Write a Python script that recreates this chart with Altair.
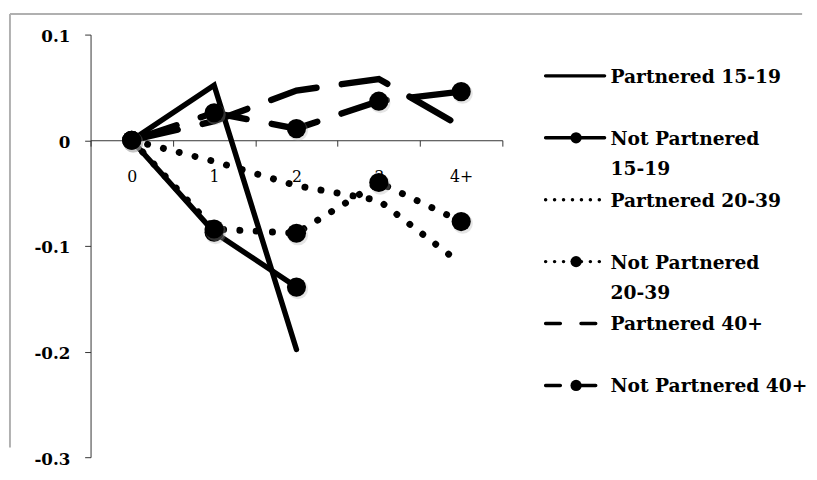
import altair as alt
import pandas as pd

categories = ["0", "1", "2", "3", "4+"]
series_names = ["Partnered 15-19", "Not Partnered 15-19", "Partnered 20-39",
                "Not Partnered 20-39", "Partnered 40+", "Not Partnered 40+"]
legend_labels = ["Partnered 15-19", "Not Partnered\n15-19", "Partnered 20-39",
                 "Not Partnered\n20-39", "Partnered 40+", "Not Partnered 40+"]
partnered_15_19 = [0.0, 0.052, -0.198]
not_partnered_15_19 = [0.0, -0.087, -0.139]
partnered_20_39 = [0.0, -0.020, -0.043, -0.057, -0.117]
not_partnered_20_39 = [0.0, -0.084, -0.088, -0.040, -0.077]
partnered_40 = [0.0, 0.018, 0.047, 0.058, 0.013]
not_partnered_40 = [0.0, 0.026, 0.011, 0.037, 0.046]
y_ticks = [-0.3, -0.2, -0.1, 0.0, 0.1]

values = [partnered_15_19, not_partnered_15_19, partnered_20_39,
          not_partnered_20_39, partnered_40, not_partnered_40]

# styles (kept out of data)
SOLID, DOTTED, DASHED = "solid", "dotted", "dashed"
line_kind = [SOLID, SOLID, DOTTED, DOTTED, DASHED, DASHED]
has_marker = [False, True, False, True, False, True]
plot_dash = {DOTTED: [0.1, 16.5], DASHED: [48, 26]}
legend_dash = {SOLID: [1, 0], DOTTED: [0.1, 9], DASHED: [15, 21]}
line_width = {SOLID: 5.5, DOTTED: 7, DASHED: 6.5}

W, H = 419, 430
Y_DOMAIN = [-0.3, 0.1]
zero_frac = (Y_DOMAIN[1] - 0) / (Y_DOMAIN[1] - Y_DOMAIN[0])

rows = []
for name, vals in zip(series_names, values):
    for i, v in enumerate(vals):
        rows.append({"series": name, "pos": i, "cat": categories[i], "value": v})
df = pd.DataFrame(rows)

label_list = ",".join("'%s'" % c for c in categories) + ",''"
x_axis = alt.Axis(
    values=[i - 0.5 for i in range(len(categories) + 1)],
    labelExpr="[%s][round(datum.value + 0.5)]" % label_list,
    labelOffset=W / (2 * len(categories)),
    labelFlush=False, labelOverlap=False, labelBound=False,
    offset=-(H * (1 - zero_frac)),
    tickSize=6, labelPadding=23, grid=False, title=None,
    labelFont="DejaVu Serif", labelFontSize=16, labelColor="black",
    domainColor="#333", tickColor="#333",
)
y_axis = alt.Axis(
    values=y_ticks,
    labelExpr="datum.value < -0.001 ? '-' + format(-datum.value, '.1f') : (abs(datum.value) < 0.001 ? '0' : format(datum.value, '.1f'))",
    tickSize=6, labelPadding=15, grid=False, title=None, labelOffset=2,
    labelFont="DejaVu Serif", labelFontWeight="bold", labelFontSize=17,
    labelColor="black", domainColor="#333", tickColor="#333",
)
X = alt.X("pos:Q", scale=alt.Scale(domain=[-0.5, len(categories) - 0.5], nice=False, zero=False), axis=x_axis)
Y = alt.Y("value:Q", scale=alt.Scale(domain=Y_DOMAIN, nice=False, zero=False), axis=y_axis)

one = pd.DataFrame({"a": [0]})
frame_top = alt.Chart(one).mark_rule(color="#b0b0b0", strokeWidth=2).encode(
    x=alt.value(-82), x2=alt.value(724), y=alt.value(-21))
frame_left = alt.Chart(one).mark_rule(color="#b0b0b0", strokeWidth=2).encode(
    x=alt.value(-82), y=alt.value(-21), y2=alt.value(420))

layers = [frame_top, frame_left]
for name, kind, mk in zip(series_names, line_kind, has_marker):
    sub = alt.Chart(df).transform_filter(alt.datum.series == name)
    kw = dict(color="black", strokeWidth=line_width[kind], strokeCap="round")
    if kind in plot_dash:
        kw["strokeDash"] = plot_dash[kind]
    layers.append(sub.mark_line(**kw).encode(x=X, y=Y))
    if mk:
        layers.append(sub.mark_circle(size=430, color="#aaa", opacity=0.3, xOffset=1.5, yOffset=2).encode(x=X, y=Y))
        layers.append(sub.mark_circle(size=380, color="black", opacity=1).encode(x=X, y=Y))

main = alt.layer(*layers).properties(width=W, height=H)

leg_df = pd.DataFrame({"series": series_names, "label": legend_labels,
                       "marker": has_marker})
LY = alt.Y("series:N", scale=alt.Scale(type="point", domain=series_names, range=[42, 357], padding=0), axis=None)
leg_rule = alt.Chart(leg_df).mark_rule(color="black", strokeWidth=3.5, strokeCap="round").encode(
    x=alt.value(17), x2=alt.value(77), y=LY,
    strokeDash=alt.StrokeDash("series:N", scale=alt.Scale(domain=series_names, range=[legend_dash[k] for k in line_kind]), legend=None))
leg_marker = alt.Chart(leg_df).transform_filter(alt.datum.marker == True).mark_circle(
    size=130, color="black", opacity=1).encode(x=alt.value(48), y=LY)
leg_text = alt.Chart(leg_df).mark_text(
    align="left", baseline="top", dy=-8, font="DejaVu Serif", fontWeight="bold",
    fontSize=19, lineBreak="\n", lineHeight=31, color="black").encode(
    x=alt.value(83), y=LY, text="label:N")
legend = alt.layer(leg_rule, leg_marker, leg_text).properties(width=190, height=H)

chart = alt.hconcat(main, legend, spacing=27, bounds="flush").resolve_scale(
    x="independent", y="independent").properties(padding=0, background="white").configure_view(
    stroke="transparent")

chart.save("out.html", embed_options={"renderer": "svg", "actions": False})
